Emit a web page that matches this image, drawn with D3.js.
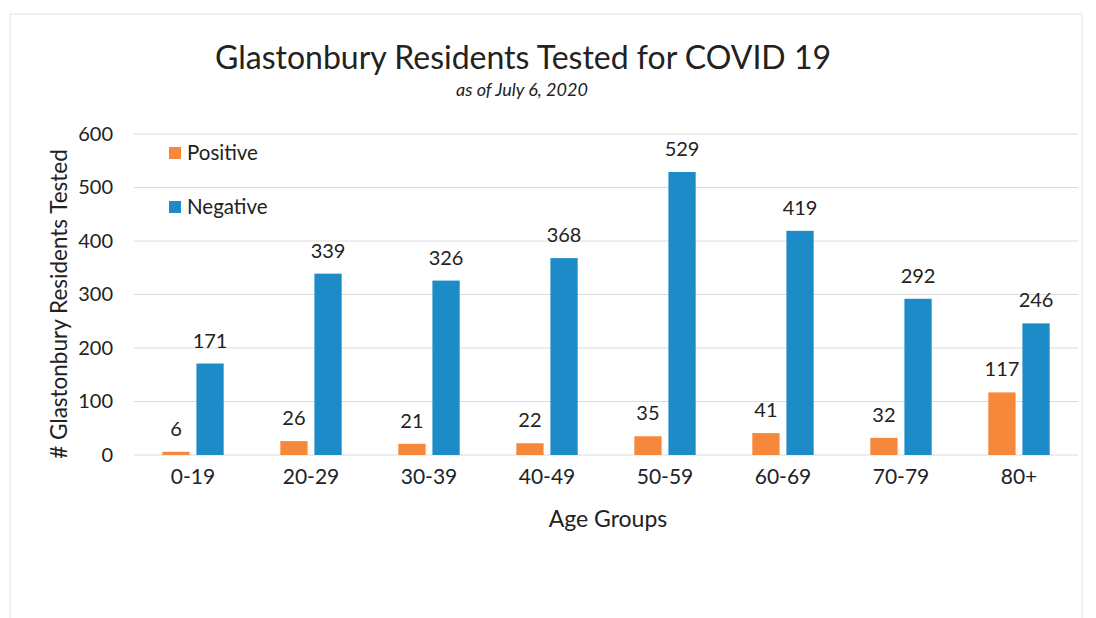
<!DOCTYPE html>
<html><head><meta charset="utf-8">
<script src="https://cdn.jsdelivr.net/npm/d3@7"></script>
<style>body{margin:0;background:#fff;}svg{display:block;}</style>
</head><body>
<svg id="c" width="1096" height="618"></svg>
<script>
const categories = ["0-19","20-29","30-39","40-49","50-59","60-69","70-79","80+"];
const positive = [6,26,21,22,35,41,32,117];
const negative = [171,339,326,368,529,419,292,246];
const yTicks = [0,100,200,300,400,500,600];
const seriesNames = ["Positive","Negative"];
const colors = ["#F5883A","#1E8BC9"];

const font = "Lato, 'Open Sans', sans-serif";
const svg = d3.select("#c");
svg.append("rect").attr("x",10).attr("y",14).attr("width",1072).attr("height",620)
  .attr("fill","#fff").attr("stroke","#e4e4e4").attr("stroke-width",1);

const m = {l:134, r:1078, t:134, b:455};
const x = d3.scaleBand().domain(categories).range([m.l,m.r]).paddingInner(0).paddingOuter(0);
const y = d3.scaleLinear().domain([0,600]).range([m.b,m.t]);
const x1 = d3.scaleBand().domain(seriesNames).range([x.bandwidth()*0.24, x.bandwidth()*0.76]).paddingInner(0.2);

svg.append("g").selectAll("line").data(yTicks).join("line")
  .attr("x1",m.l).attr("x2",m.r).attr("y1",d=>y(d)).attr("y2",d=>y(d))
  .attr("stroke","#dcdcdc").attr("stroke-width",1);

const yAxis = d3.axisLeft(y).tickValues(yTicks).tickSize(0).tickPadding(0);
const ya = svg.append("g").attr("transform",`translate(113,0)`).call(yAxis);
ya.select(".domain").remove();
ya.selectAll("text").attr("font-family",font).attr("font-size",20).attr("fill","#222");

const xAxis = d3.axisBottom(x).tickSize(0).tickPadding(0);
const xa = svg.append("g").attr("transform",`translate(0,${m.b+14})`).call(xAxis);
xa.select(".domain").remove();
xa.selectAll("text").attr("font-family",font).attr("font-size",21).attr("fill","#222");

const data = categories.map((c,i)=>({c, vals:[{k:"Positive",v:positive[i]},{k:"Negative",v:negative[i]}]}));
const g = svg.append("g").selectAll("g").data(data).join("g")
  .attr("transform",d=>`translate(${x(d.c)},0)`);
g.selectAll("rect").data(d=>d.vals).join("rect")
  .attr("x",d=>x1(d.k)).attr("width",x1.bandwidth())
  .attr("y",d=>y(d.v)).attr("height",d=>y(0)-y(d.v))
  .attr("fill",(d,i)=>colors[i]);
g.selectAll("text").data(d=>d.vals).join("text")
  .attr("x",d=>x1(d.k)+x1.bandwidth()/2)
  .attr("y",d=>y(d.v)-16)
  .attr("text-anchor","middle")
  .attr("font-family",font).attr("font-size",20).attr("fill","#222")
  .text(d=>d.v);

svg.append("text").attr("x",523).attr("y",69).attr("text-anchor","middle")
  .attr("font-family",font).attr("font-size",32).attr("fill","#222")
  .text("Glastonbury Residents Tested for COVID 19");
svg.append("text").attr("x",522).attr("y",96).attr("text-anchor","middle")
  .attr("font-family",font).attr("font-size",18).attr("font-style","italic").attr("fill","#222")
  .text("as of July 6, 2020");

svg.append("text").attr("transform","translate(67,304) rotate(-90)").attr("text-anchor","middle")
  .attr("font-family",font).attr("font-size",22.5).attr("fill","#222")
  .text("# Glastonbury Residents Tested");
svg.append("text").attr("x",608).attr("y",527).attr("text-anchor","middle")
  .attr("font-family",font).attr("font-size",23).attr("fill","#222")
  .text("Age Groups");

const lg = svg.append("g").selectAll("g").data(seriesNames).join("g")
  .attr("transform",(d,i)=>`translate(169,${153+i*54})`);
lg.append("rect").attr("x",0).attr("y",-6).attr("width",12).attr("height",12).attr("fill",(d,i)=>colors[i]);
lg.append("text").attr("x",18).attr("y",7).attr("font-family",font).attr("font-size",20.5).attr("fill","#222").text(d=>d);
</script>
</body></html>
